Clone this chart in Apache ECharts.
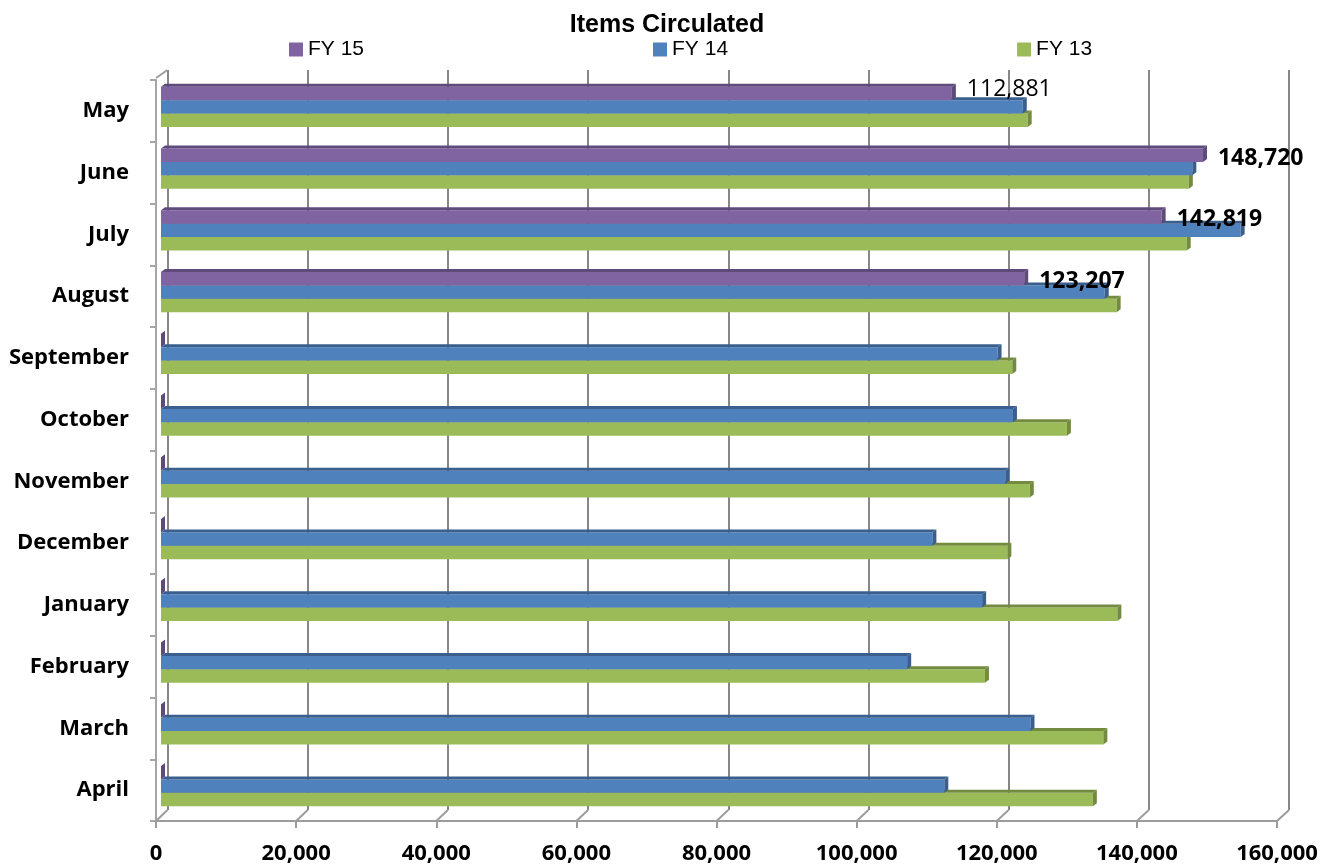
<!DOCTYPE html>
<html>
<head>
<meta charset="utf-8">
<script src="https://cdn.jsdelivr.net/npm/echarts@6/dist/echarts.min.js"></script>
<style>
html,body{margin:0;padding:0;background:#fff;}
#c{width:1334px;height:866px;}
</style>
</head>
<body>
<div id="c"></div>
<script>
const categories = ['May','June','July','August','September','October','November','December','January','February','March','April'];
const fy15 = [112881, 148720, 142819, 123207, 0, 0, 0, 0, 0, 0, 0, 0];
const fy14 = [123000, 147200, 154100, 134700, 119400, 121600, 120500, 110100, 117200, 106500, 124100, 111800];
const fy13 = [123700, 146700, 146400, 136400, 121500, 129300, 124000, 120800, 136500, 117600, 134500, 133000];
const xTicks = [0, 20000, 40000, 60000, 80000, 100000, 120000, 140000, 160000];
const seriesNames = ['FY 15', 'FY 14', 'FY 13'];

const colors = ['#8064A2', '#4F81BD', '#9BBB59'];
const darkColors = ['#5F4A7C', '#3A5F8E', '#728B3F'];

const FRONT = {left: 156, right: 57, top: 80, bottom: 45};
const BACK = {left: 167.5, right: 45, top: 70, bottom: 56};
const H = 866;

const chart = echarts.init(document.getElementById('c'), null, {renderer: 'canvas'});

function makeRender(k) {
  return function (params, api) {
    const v = api.value(0);
    const ci = api.value(1);
    const p0 = api.coord([0, ci]);
    const p1 = api.coord([v, ci]);
    const bandH = api.size([0, 1])[1];
    const barH = bandH * 0.2186;
    const shiftX = 5, shiftY = -4;
    const dx = 4, dy = -3;
    const x0 = p0[0] + shiftX;
    const x1 = p1[0] + shiftX;
    const y = p0[1] + shiftY - 1.5 * barH + k * barH;
    const children = [];
    if (x1 > x0) {
      children.push({type: 'rect', shape: {x: x0, y: y, width: x1 - x0, height: barH},
        style: {fill: colors[k]}});
      children.push({type: 'polygon', shape: {points: [[x0, y], [x1, y], [x1 + dx, y + dy], [x0 + dx, y + dy]]},
        style: {fill: darkColors[k]}});
    }
    children.push({type: 'polygon', shape: {points: [[x1, y], [x1 + dx, y + dy], [x1 + dx, y + dy + barH], [x1, y + barH]]},
      style: {fill: darkColors[k]}});
    if (k === 0 && v > 0) {
      const first = params.dataIndex === 0;
      children.push({type: 'text', z2: 10,
        style: {
          text: v.toLocaleString('en-US'),
          x: x1 + 15,
          y: y + barH / 2 + (first ? -3.5 : 3),
          align: 'left', verticalAlign: 'middle',
          fontFamily: 'Open Sans', fontSize: 23,
          fontWeight: first ? 'normal' : 'bold',
          fill: '#000'
        }});
    }
    return {type: 'group', children: children};
  };
}

const seriesData = [fy15, fy14, fy13];

const option = {
  animation: false,
  backgroundColor: '#fff',
  title: {
    text: 'Items Circulated', left: 'center', top: 8,
    textStyle: {fontFamily: 'Liberation Sans', fontWeight: 'bold', fontSize: 25, color: '#000'}
  },
  legend: {
    data: seriesNames, left: 284, top: 34, icon: 'rect', itemWidth: 14, itemHeight: 14,
    itemGap: 289,
    textStyle: {fontFamily: 'Liberation Sans', fontSize: 21, color: '#000'}
  },
  grid: [
    {left: FRONT.left, right: FRONT.right, top: FRONT.top, bottom: FRONT.bottom},
    {left: BACK.left, right: BACK.right, top: BACK.top, bottom: BACK.bottom}
  ],
  xAxis: [
    {
      gridIndex: 0, type: 'value', min: 0, max: 160000, interval: 20000,
      axisLine: {show: true, lineStyle: {color: '#9c9c9c', width: 2}},
      axisTick: {show: true, length: 7, lineStyle: {color: '#9c9c9c', width: 2}},
      splitLine: {show: false},
      axisLabel: {margin: 22, color: '#000', fontFamily: 'Open Sans', fontWeight: 'bold', fontSize: 22,
        formatter: v => v.toLocaleString('en-US')}
    },
    {
      gridIndex: 1, type: 'value', min: 0, max: 160000, interval: 20000,
      axisLine: {show: false}, axisTick: {show: false}, axisLabel: {show: false},
      splitLine: {show: true, lineStyle: {color: '#878787', width: 2}}
    }
  ],
  yAxis: [
    {
      gridIndex: 0, type: 'category', data: categories, inverse: true,
      axisLine: {show: true, lineStyle: {color: '#a6a6a6', width: 2}},
      axisTick: {show: true, length: 6, lineStyle: {color: '#a6a6a6', width: 2}},
      axisLabel: {margin: 27, color: '#000', fontFamily: 'Open Sans', fontWeight: 'bold', fontSize: 22}
    },
    {gridIndex: 1, type: 'value', min: 0, max: 1, show: false}
  ],
  series: seriesNames.map((name, k) => ({
    name: name, type: 'custom', xAxisIndex: 0, yAxisIndex: 0,
    z: 10 - k,
    itemStyle: {color: colors[k]},
    renderItem: makeRender(k),
    encode: {x: 0, y: 1},
    data: seriesData[k].map((v, i) => [v, i])
  }))
};

chart.setOption(option);

// 3D wall/floor edges derived from the two axes
const frontBottom = H - FRONT.bottom;
const backBottom = H - BACK.bottom;
const lines = xTicks.map(v => {
  const xf = chart.convertToPixel({xAxisIndex: 0}, v);
  const xb = chart.convertToPixel({xAxisIndex: 1}, v);
  return {type: 'line', shape: {x1: xf, y1: frontBottom, x2: xb, y2: backBottom},
    style: {stroke: '#9c9c9c', lineWidth: 2}, z: 1};
});
const xf0 = chart.convertToPixel({xAxisIndex: 0}, 0);
const xb0 = chart.convertToPixel({xAxisIndex: 1}, 0);
lines.push({type: 'line', shape: {x1: xf0, y1: FRONT.top - 2, x2: xb0, y2: BACK.top},
  style: {stroke: '#9c9c9c', lineWidth: 2}, z: 1});
chart.setOption({graphic: lines});
</script>
</body>
</html>
